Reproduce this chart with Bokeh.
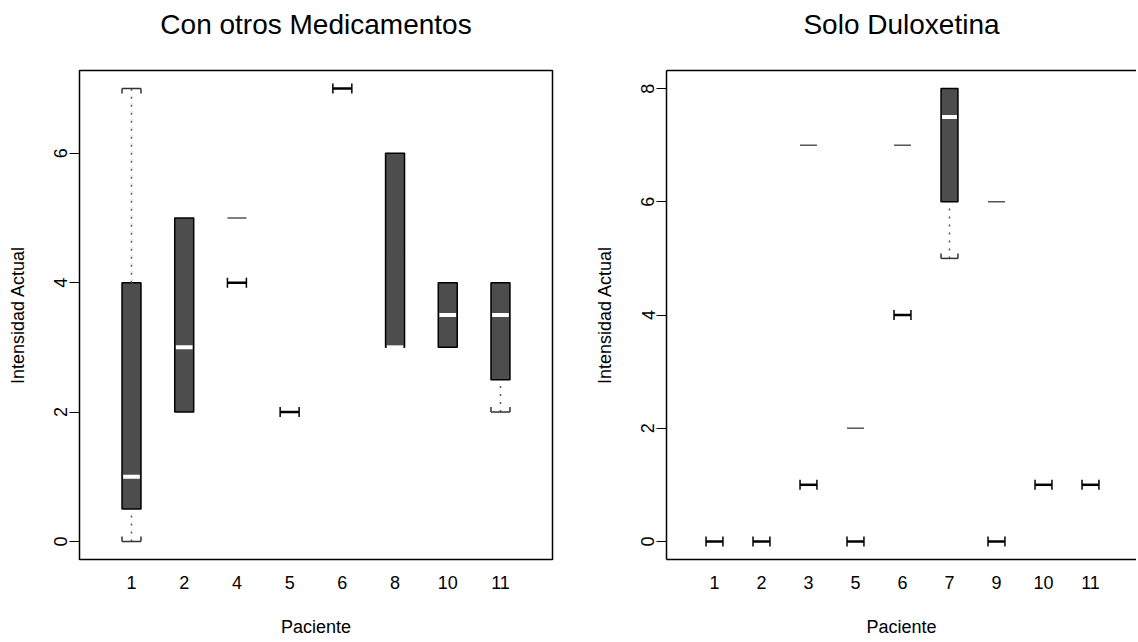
from bokeh.plotting import figure
from bokeh.models import FixedTicker, LinearAxis, Range1d
from bokeh.layouts import row
from bokeh.embed import file_html
from bokeh.resources import INLINE

FONT = "Liberation Sans"

# ---- Data: Con otros Medicamentos ----
left_patients = ["1", "2", "4", "5", "6", "8", "10", "11"]
left_q1 = [0.5, 2, 4, 2, 7, 3, 3, 2.5]
left_median = [1, 3, 4, 2, 7, 3, 3.5, 3.5]
left_q3 = [4, 5, 4, 2, 7, 6, 4, 4]
left_whisker_low = [0, 2, 4, 2, 7, 3, 3, 2]
left_whisker_high = [7, 5, 4, 2, 7, 6, 4, 4]
left_outlier_patient = ["4"]
left_outlier_value = [5]
left_yticks = [0, 2, 4, 6]

# ---- Data: Solo Duloxetina ----
right_patients = ["1", "2", "3", "5", "6", "7", "9", "10", "11"]
right_q1 = [0, 0, 1, 0, 4, 6, 0, 1, 1]
right_median = [0, 0, 1, 0, 4, 7.5, 0, 1, 1]
right_q3 = [0, 0, 1, 0, 4, 8, 0, 1, 1]
right_whisker_low = [0, 0, 1, 0, 4, 5, 0, 1, 1]
right_whisker_high = [0, 0, 1, 0, 4, 8, 0, 1, 1]
right_outlier_patient = ["3", "5", "6", "9"]
right_outlier_value = [7, 2, 7, 6]
right_yticks = [0, 2, 4, 6, 8]

BOX_FILL = "#4d4d4d"
FRAME_H = 489


def panel(title, patients, q1, med, q3, wlo, whi, opat, oval, yticks,
          xr, yr, frame_w, mb_left, mb_right, full_outline, title_offset):
    p = figure(frame_width=frame_w, frame_height=FRAME_H,
               x_range=Range1d(*xr), y_range=Range1d(*yr),
               output_backend="svg", toolbar_location=None,
               min_border_left=mb_left, min_border_right=mb_right,
               min_border_top=70, min_border_bottom=81,
               background_fill_color="white", border_fill_color="white")
    p.grid.visible = False
    if full_outline:
        p.outline_line_color = "black"
        p.outline_line_width = 1.5
    else:
        p.outline_line_color = None

    n = len(patients)
    xs = list(range(1, n + 1))
    bw = 0.36
    ppu = FRAME_H / (yr[1] - yr[0])
    tk = 5.0 / ppu

    # x axis
    xa = p.xaxis[0]
    xa.ticker = FixedTicker(ticks=xs)
    xa.major_label_overrides = {x: lab for x, lab in zip(xs, patients)}
    xa.major_tick_line_color = None
    xa.minor_tick_line_color = None
    xa.axis_line_color = None if full_outline else "black"
    xa.axis_line_width = 1.5
    xa.major_label_text_font = FONT
    xa.major_label_text_font_size = "18px"
    xa.major_label_text_color = "black"
    xa.major_label_standoff = 10
    xa.axis_label = "Paciente"
    xa.axis_label_text_font = FONT
    xa.axis_label_text_font_size = "18px"
    xa.axis_label_text_font_style = "normal"
    xa.axis_label_text_color = "black"
    xa.axis_label_standoff = 25

    # y axis
    ya = p.yaxis[0]
    ya.ticker = FixedTicker(ticks=yticks)
    ya.minor_tick_line_color = None
    ya.major_tick_out = 10
    ya.major_tick_in = 0
    ya.major_tick_line_width = 1
    ya.major_tick_line_color = "black"
    ya.axis_line_color = None if full_outline else "black"
    ya.axis_line_width = 1.5
    ya.major_label_orientation = "vertical"
    ya.major_label_text_font = FONT
    ya.major_label_text_font_size = "18px"
    ya.major_label_text_color = "black"
    ya.major_label_standoff = 2
    ya.axis_label = "Intensidad Actual"
    ya.axis_label_text_font = FONT
    ya.axis_label_text_font_size = "18px"
    ya.axis_label_text_font_style = "normal"
    ya.axis_label_text_color = "black"
    ya.axis_label_standoff = 24

    if not full_outline:
        top = LinearAxis(ticker=FixedTicker(ticks=[]), axis_line_width=1.5,
                         axis_line_color="black",
                         major_tick_line_color=None, minor_tick_line_color=None,
                         major_label_text_font_size="0px")
        p.add_layout(top, "above")

    p.title.text = title + "\n "
    p.title.align = "center"
    p.title.text_font = FONT
    p.title.text_font_size = "28px"
    p.title.text_font_style = "normal"
    p.title.text_color = "black"
    p.title.standoff = 0
    p.title.offset = title_offset

    # boxes
    bx = [x for x, a, b in zip(xs, q1, q3) if b > a]
    bq1 = [a for a, b in zip(q1, q3) if b > a]
    bq3 = [b for a, b in zip(q1, q3) if b > a]
    bmed = [m for a, b, m in zip(q1, q3, med) if b > a]
    p.quad(left=[x - bw / 2 for x in bx], right=[x + bw / 2 for x in bx],
           bottom=bq1, top=bq3, fill_color=BOX_FILL, line_color="black",
           line_width=1.5)
    p.segment(x0=[x - bw * 0.44 for x in bx], x1=[x + bw * 0.44 for x in bx],
              y0=bmed, y1=bmed, line_color="white", line_width=4)

    # whiskers + staples
    wx0, wy0, wy1 = [], [], []
    sx0, sx1, sy = [], [], []
    tx, ty0, ty1 = [], [], []
    for x, a, b, lo, hi in zip(xs, q1, q3, wlo, whi):
        if b <= a:
            continue
        if lo < a:
            wx0.append(x); wy0.append(lo); wy1.append(a)
            sx0.append(x - bw / 2); sx1.append(x + bw / 2); sy.append(lo)
            for e in (x - bw / 2, x + bw / 2):
                tx.append(e); ty0.append(lo); ty1.append(lo + tk)
        if hi > b:
            wx0.append(x); wy0.append(b); wy1.append(hi)
            sx0.append(x - bw / 2); sx1.append(x + bw / 2); sy.append(hi)
            for e in (x - bw / 2, x + bw / 2):
                tx.append(e); ty0.append(hi); ty1.append(hi - tk)
    p.segment(x0=wx0, x1=wx0, y0=wy0, y1=wy1, line_color="#555555",
              line_width=1.5, line_dash="2 6")
    p.segment(x0=sx0, x1=sx1, y0=sy, y1=sy, line_color="#333333", line_width=1.5)
    p.segment(x0=tx, x1=tx, y0=ty0, y1=ty1, line_color="#333333", line_width=1.5)

    # degenerate boxes (single value) -> "H"
    hx = [x for x, a, b in zip(xs, q1, q3) if b <= a]
    hy = [a for a, b in zip(q1, q3) if b <= a]
    p.segment(x0=[x - bw / 2 for x in hx], x1=[x + bw / 2 for x in hx],
              y0=hy, y1=hy, line_color="black", line_width=2.5)
    ex, ey0, ey1 = [], [], []
    for x, v in zip(hx, hy):
        for e in (x - bw / 2, x + bw / 2):
            ex.append(e); ey0.append(v - tk); ey1.append(v + tk)
    p.segment(x0=ex, x1=ex, y0=ey0, y1=ey1, line_color="black", line_width=1.5)

    # outliers drawn as dashes
    pos = {lab: x for x, lab in zip(xs, patients)}
    ox = [pos[lab] for lab in opat]
    p.segment(x0=[x - bw / 2 for x in ox], x1=[x + bw / 2 for x in ox],
              y0=oval, y1=oval, line_color="#555555", line_width=1.5)
    return p


p1 = panel("Con otros Medicamentos", left_patients, left_q1, left_median, left_q3,
           left_whisker_low, left_whisker_high, left_outlier_patient,
           left_outlier_value, left_yticks,
           (0.0135, 8.987), (-0.28, 7.28), 473, 79, 20, True, 0)
p2 = panel("Solo Duloxetina", right_patients, right_q1, right_median, right_q3,
           right_whisker_low, right_whisker_high, right_outlier_patient,
           right_outlier_value, right_yticks,
           (-0.021, 9.979), (-0.32, 8.32), 470, 94, 0, False, 6)

layout = row(p1, p2)
open("out.html", "w").write(file_html(layout, INLINE))
